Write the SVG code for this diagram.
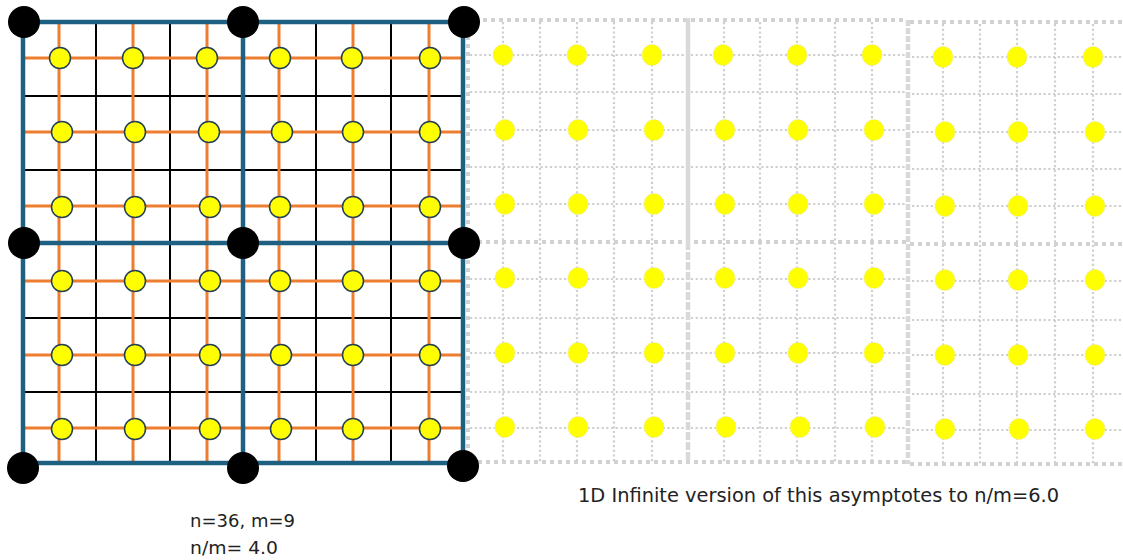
<svg xmlns="http://www.w3.org/2000/svg" width="1123" height="560" viewBox="0 0 1123 560">
<style>
.blk{stroke:#000;stroke-width:2;fill:none}
.org{stroke:#ED7D31;stroke-width:3;fill:none}
.blu{stroke:#1D6082;stroke-width:4.5;fill:none}
.ycl{fill:#FFFF00;stroke:#243F52;stroke-width:1.5}
.corner{fill:#000}
.dot{stroke:#CFCFCF;stroke-width:2.2;stroke-dasharray:2.2 2.5;fill:none}
.thk{stroke:#D2D2D2;stroke-width:4;stroke-dasharray:4 4;fill:none}
.ydot{fill:#FFFF00;stroke:#E6E6B0;stroke-width:1;stroke-dasharray:1.5 1.5}
.txt{font-family:"DejaVu Sans","Liberation Sans",sans-serif;fill:#222}
</style>
<rect width="1123" height="560" fill="#fff"/>

<g id="infinite-grid">
  <g id="dotted-lines">
    <path class="dot" d="M503 22V463M540 22V463M577 22V463M614 22V463M652 22V463M724 22V463M760 22V463M797 22V463M835 22V463M872 22V463M943 24V465M980 24V465M1017 24V465M1055 24V465M1093 24V465"/>
    <path class="dot" d="M470 55H906M470 92H906M470 130H906M470 167H906M470 204H906M470 279H906M470 318H906M470 353H906M470 392H906M470 428H906"/>
    <path class="dot" d="M912 57H1123M912 94H1123M912 132H1123M912 169H1123M912 206H1123M912 281H1123M912 320H1123M912 355H1123M912 394H1123M912 430H1123"/>
  </g>
  <g id="block-borders">
    <path class="thk" d="M483 20H906M470 242H906M470 462H906M468 20V463"/>
    <path class="thk" d="M910 22H1123M910 244H1123M910 464H1123"/>
    <path d="M688 18V242" stroke="#D9D9D9" stroke-width="4.5" fill="none"/>
    <path d="M688 242V463" stroke="#D9D9D9" stroke-width="4.5" stroke-dasharray="8 2" fill="none"/>
    <path d="M908 20V464" stroke="#D9D9D9" stroke-width="4.5" stroke-dasharray="6 2" fill="none"/>
  </g>
  <g id="infinite-nodes">
    <ellipse class="ydot" cx="503" cy="55" rx="10" ry="10.5"/><ellipse class="ydot" cx="577" cy="55" rx="10" ry="10.5"/><ellipse class="ydot" cx="652" cy="55" rx="10" ry="10.5"/>
    <ellipse class="ydot" cx="723" cy="55" rx="10" ry="10.5"/><ellipse class="ydot" cx="797" cy="55" rx="10" ry="10.5"/><ellipse class="ydot" cx="872" cy="55" rx="10" ry="10.5"/>
    <ellipse class="ydot" cx="943" cy="57" rx="10" ry="10.5"/><ellipse class="ydot" cx="1017" cy="57" rx="10" ry="10.5"/><ellipse class="ydot" cx="1093" cy="57" rx="10" ry="10.5"/>

    <ellipse class="ydot" cx="505" cy="130" rx="10" ry="10.5"/><ellipse class="ydot" cx="578" cy="130" rx="10" ry="10.5"/><ellipse class="ydot" cx="654" cy="130" rx="10" ry="10.5"/>
    <ellipse class="ydot" cx="725" cy="130" rx="10" ry="10.5"/><ellipse class="ydot" cx="798" cy="130" rx="10" ry="10.5"/><ellipse class="ydot" cx="874" cy="130" rx="10" ry="10.5"/>
    <ellipse class="ydot" cx="945" cy="132" rx="10" ry="10.5"/><ellipse class="ydot" cx="1018" cy="132" rx="10" ry="10.5"/><ellipse class="ydot" cx="1095" cy="132" rx="10" ry="10.5"/>

    <ellipse class="ydot" cx="505" cy="204" rx="10" ry="10.5"/><ellipse class="ydot" cx="578" cy="204" rx="10" ry="10.5"/><ellipse class="ydot" cx="654" cy="204" rx="10" ry="10.5"/>
    <ellipse class="ydot" cx="725" cy="204" rx="10" ry="10.5"/><ellipse class="ydot" cx="798" cy="204" rx="10" ry="10.5"/><ellipse class="ydot" cx="874" cy="204" rx="10" ry="10.5"/>
    <ellipse class="ydot" cx="945" cy="206" rx="10" ry="10.5"/><ellipse class="ydot" cx="1018" cy="206" rx="10" ry="10.5"/><ellipse class="ydot" cx="1095" cy="206" rx="10" ry="10.5"/>

    <ellipse class="ydot" cx="505" cy="278" rx="10" ry="10.5"/><ellipse class="ydot" cx="578" cy="278" rx="10" ry="10.5"/><ellipse class="ydot" cx="654" cy="278" rx="10" ry="10.5"/>
    <ellipse class="ydot" cx="725" cy="278" rx="10" ry="10.5"/><ellipse class="ydot" cx="798" cy="278" rx="10" ry="10.5"/><ellipse class="ydot" cx="874" cy="278" rx="10" ry="10.5"/>
    <ellipse class="ydot" cx="945" cy="280" rx="10" ry="10.5"/><ellipse class="ydot" cx="1018" cy="280" rx="10" ry="10.5"/><ellipse class="ydot" cx="1095" cy="280" rx="10" ry="10.5"/>

    <ellipse class="ydot" cx="505" cy="353" rx="10" ry="10.5"/><ellipse class="ydot" cx="578" cy="353" rx="10" ry="10.5"/><ellipse class="ydot" cx="654" cy="353" rx="10" ry="10.5"/>
    <ellipse class="ydot" cx="725" cy="353" rx="10" ry="10.5"/><ellipse class="ydot" cx="798" cy="353" rx="10" ry="10.5"/><ellipse class="ydot" cx="874" cy="353" rx="10" ry="10.5"/>
    <ellipse class="ydot" cx="945" cy="355" rx="10" ry="10.5"/><ellipse class="ydot" cx="1018" cy="355" rx="10" ry="10.5"/><ellipse class="ydot" cx="1095" cy="355" rx="10" ry="10.5"/>

    <ellipse class="ydot" cx="505" cy="427" rx="10" ry="10.5"/><ellipse class="ydot" cx="578" cy="427" rx="10" ry="10.5"/><ellipse class="ydot" cx="654" cy="427" rx="10" ry="10.5"/>
    <ellipse class="ydot" cx="726" cy="427" rx="10" ry="10.5"/><ellipse class="ydot" cx="800" cy="427" rx="10" ry="10.5"/><ellipse class="ydot" cx="875" cy="427" rx="10" ry="10.5"/>
    <ellipse class="ydot" cx="945" cy="429" rx="10" ry="10.5"/><ellipse class="ydot" cx="1019" cy="429" rx="10" ry="10.5"/><ellipse class="ydot" cx="1095" cy="429" rx="10" ry="10.5"/>
  </g>
</g>

<g id="finite-grid">
  <g id="cell-lines">
    <path class="blk" d="M96 22V463M170 22V463M316 22V463M391 22V463M23 96H463M23 170H463M23 318H463M23 392H463"/>
  </g>
  <g id="orange-lines">
    <path class="org" d="M59 22V463M133 22V463M207 22V463M279 22V463M353 22V463M429 22V463M23 58H463M23 132H463M23 206H463M23 281H463M23 355H463M23 428H463"/>
  </g>
  <g id="borders">
    <rect class="blu" x="23" y="22" width="440" height="441"/>
    <path class="blu" d="M243 22V463M23 243H463"/>
  </g>
  <g id="finite-nodes">
    <circle class="ycl" cx="60" cy="58" r="10.5"/><circle class="ycl" cx="133" cy="58" r="10.5"/><circle class="ycl" cx="207" cy="58" r="10.5"/>
    <circle class="ycl" cx="280" cy="58" r="10.5"/><circle class="ycl" cx="352" cy="58" r="10.5"/><circle class="ycl" cx="430" cy="58" r="10.5"/>
    <circle class="ycl" cx="62" cy="132" r="10.5"/><circle class="ycl" cx="135" cy="132" r="10.5"/><circle class="ycl" cx="209" cy="132" r="10.5"/>
    <circle class="ycl" cx="282" cy="132" r="10.5"/><circle class="ycl" cx="353" cy="132" r="10.5"/><circle class="ycl" cx="430" cy="132" r="10.5"/>
    <circle class="ycl" cx="62" cy="207" r="10.5"/><circle class="ycl" cx="135" cy="207" r="10.5"/><circle class="ycl" cx="210" cy="207" r="10.5"/>
    <circle class="ycl" cx="280" cy="207" r="10.5"/><circle class="ycl" cx="353" cy="207" r="10.5"/><circle class="ycl" cx="430" cy="207" r="10.5"/>
    <circle class="ycl" cx="62" cy="281" r="10.5"/><circle class="ycl" cx="135" cy="281" r="10.5"/><circle class="ycl" cx="210" cy="281" r="10.5"/>
    <circle class="ycl" cx="280" cy="281" r="10.5"/><circle class="ycl" cx="353" cy="281" r="10.5"/><circle class="ycl" cx="430" cy="281" r="10.5"/>
    <circle class="ycl" cx="62" cy="355" r="10.5"/><circle class="ycl" cx="135" cy="355" r="10.5"/><circle class="ycl" cx="210" cy="355" r="10.5"/>
    <circle class="ycl" cx="281" cy="355" r="10.5"/><circle class="ycl" cx="353" cy="355" r="10.5"/><circle class="ycl" cx="430" cy="355" r="10.5"/>
    <circle class="ycl" cx="62" cy="429" r="10.5"/><circle class="ycl" cx="135" cy="429" r="10.5"/><circle class="ycl" cx="210" cy="429" r="10.5"/>
    <circle class="ycl" cx="281" cy="429" r="10.5"/><circle class="ycl" cx="353" cy="429" r="10.5"/><circle class="ycl" cx="430" cy="429" r="10.5"/>
  </g>
  <g id="corner-nodes">
    <circle class="corner" cx="24" cy="22" r="16"/><circle class="corner" cx="243" cy="22" r="16"/><circle class="corner" cx="464" cy="22" r="16"/>
    <circle class="corner" cx="24" cy="243" r="16"/><circle class="corner" cx="243" cy="243" r="16"/><circle class="corner" cx="464" cy="243" r="16"/>
    <circle class="corner" cx="23" cy="468" r="16"/><circle class="corner" cx="243" cy="468" r="16"/><circle class="corner" cx="463" cy="466" r="16"/>
  </g>
</g>

<g id="labels">
  <text class="txt" x="578" y="502" font-size="19" textLength="481" lengthAdjust="spacingAndGlyphs">1D Infinite version of this asymptotes to n/m=6.0</text>
  <text class="txt" x="190" y="527" font-size="18" textLength="105" lengthAdjust="spacingAndGlyphs">n=36, m=9</text>
  <text class="txt" x="190" y="554" font-size="18" textLength="88" lengthAdjust="spacingAndGlyphs">n/m= 4.0</text>
</g>
</svg>
